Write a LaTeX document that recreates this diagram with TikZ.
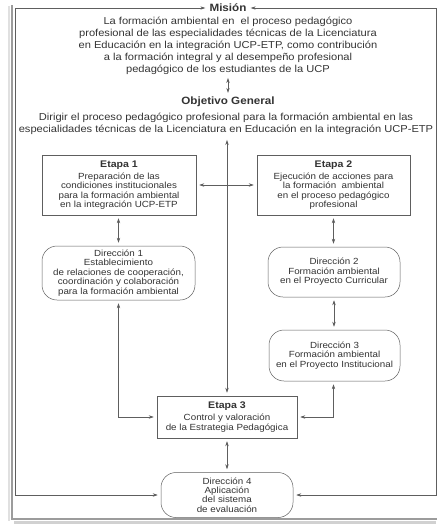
\documentclass[tikz,border=0pt]{standalone}
\usepackage{fontspec}
\setmainfont{Liberation Sans}[FakeStretch=1.1]
\usetikzlibrary{arrows.meta,positioning,calc}
\definecolor{ink}{HTML}{333333}
\definecolor{linecol}{HTML}{5E5E5E}
\definecolor{framecol}{HTML}{9C9C9C}
\newcommand{\stagetitle}[1]{{\fontsize{9.6}{10}\selectfont\bfseries #1}\\[2.5pt]}

\begin{document}
\begin{tikzpicture}[x=1pt, y=-1pt,
  >={Stealth[length=5pt,width=3.4pt]}, line join=miter,
  txt/.style={text=ink, align=center, inner sep=0pt,
              font=\fontsize{10.1}{12}\selectfont},
  hd/.style={text=ink, inner sep=1pt, font=\fontsize{10.6}{12}\selectfont\bfseries},
  stage/.style={draw=linecol, line width=0.5pt, text=ink, align=center,
                inner sep=1pt, font=\fontsize{8.9}{9.4}\selectfont},
  route/.style={stage, rounded corners=15pt},
  fl/.style={<->, linecol, line width=0.6pt, shorten <=3pt, shorten >=3pt}]
\useasboundingbox (0,0) rectangle (445,525);

% ================================================ picture frame
\draw[black!12, line width=2pt] (9,6) -- (9,521);
\draw[black!18, line width=3pt] (14,522.5) -- (436,522.5);
\draw[framecol, line width=1.3pt] (12,5) -- (12,519) -- (437,519);

% ================================================ mision and objective
\node[hd] (mis) at (228,8) {Misión};
\node[txt] (mtext) at (228,46)
  {La formación ambiental en \ el proceso pedagógico\\
   profesional de las especialidades técnicas de la Licenciatura\\
   en Educación en la integración UCP-ETP, como contribución\\
   a la formación integral y al desempeño profesional\\
   pedagógico de los estudiantes de la UCP};
\node[hd] (obj) at (228,102) {Objetivo General};
\node[txt] (otext) at (226,124)
  {Dirigir el proceso pedagógico profesional para la formación ambiental en las\\
   especialidades técnicas de la Licenciatura en Educación en la integración UCP-ETP};

% ================================================ stages and directions
\node[stage, minimum width=154pt, minimum height=60pt] (e1) at (119,185)
  {\stagetitle{Etapa 1}Preparación de las\\ condiciones institucionales\\
   para la formación ambiental\\ en la integración UCP-ETP};
\node[stage, minimum width=153pt, minimum height=60pt] (e2) at (333.5,185)
  {\stagetitle{Etapa 2}Ejecución de acciones para\\ la formación \ ambiental\\
   en el proceso pedagógico\\ profesional};
\node[route, minimum width=153pt, minimum height=54pt] (d1) at (118.5,273)
  {Dirección 1\\ Establecimiento\\ de relaciones de cooperación,\\
   coordinación y colaboración\\ para la formación ambiental};
\node[route, minimum width=132pt, minimum height=50pt] (d2) at (334,272)
  {Dirección 2\\ Formación ambiental\\ en el Proyecto Curricular};
\node[route, minimum width=131pt, minimum height=51pt] (d3) at (334.5,355.5)
  {Dirección 3\\ Formación ambiental\\ en el Proyecto Institucional};
\node[stage, minimum width=140pt, minimum height=42pt] (e3) at (227,417)
  {\stagetitle{Etapa 3}Control y valoración\\ de la Estrategia Pedagógica};
\node[route, minimum width=132pt, minimum height=45pt] (d4) at (227,495)
  {Dirección 4\\ Aplicación\\ del sistema\\ de evaluación};

% ================================================ connectors
\coordinate (lt) at (15,8);
\coordinate (rt) at (436,8);
\draw[fl] (mis.west) -- (lt) |- (d4.west);
\draw[fl] (mis.east) -- (rt) |- (d4.east);
\draw[fl] (mtext.south) -- (obj.north);
\draw[fl, shorten <=5pt] (otext.south -| e3.north) -- (e3.north);
\draw[fl] (e1.east) -- (e2.west);
\draw[fl] (e1.south -| d1.north) -- (d1.north);
\draw[fl] (e2.south) -- (e2.south |- d2.north);
\draw[fl] (d2.south) -- (d2.south |- d3.north);
\draw[fl] (d1.south) |- (e3.west);
\draw[fl] (d3.south -| e2.south) |- (e3.east);
\draw[fl] (e3.south) -- (d4.north);

\end{tikzpicture}
\end{document}
